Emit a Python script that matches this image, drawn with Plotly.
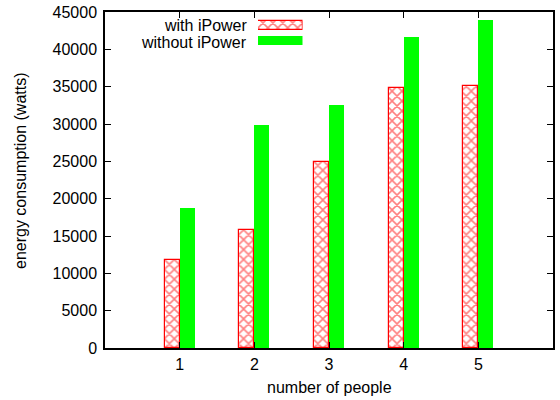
import plotly.graph_objects as go

people = [1, 2, 3, 4, 5]
with_ipower = [11800, 15800, 24900, 34800, 35100]
without_ipower = [18700, 29900, 32500, 41700, 43900]
y_ticks = list(range(0, 45001, 5000))
legend_names = ["with iPower", "without iPower"]
x_title = "number of people"
y_title = "energy consumption (watts)"

FONT = "Liberation Sans, Arial, sans-serif"
FS = 16

red_pattern = dict(shape="x", fgcolor="red", bgcolor="white", size=7, solidity=0.4)

fig = go.Figure()
fig.add_trace(go.Bar(
    x=people, y=with_ipower, name=legend_names[0], width=0.2, offset=-0.2,
    marker=dict(color="white", line=dict(color="red", width=1.2), pattern=red_pattern),
    showlegend=False))
fig.add_trace(go.Bar(
    x=people, y=without_ipower, name=legend_names[1], width=0.2, offset=0,
    marker=dict(color="#00ff00", line=dict(color="#00ff00", width=0)),
    showlegend=False))

# legend samples on an auxiliary axis
fig.add_trace(go.Bar(
    x=[1], y=[1], orientation="h", width=0.58, xaxis="x2", yaxis="y2",
    marker=dict(color="white", line=dict(color="red", width=1.2), pattern=red_pattern),
    showlegend=False, hoverinfo="skip"))
fig.add_trace(go.Bar(
    x=[1], y=[0], orientation="h", width=0.58, xaxis="x2", yaxis="y2",
    marker=dict(color="#00ff00", line=dict(width=0)),
    showlegend=False, hoverinfo="skip"))

L, R, T, B = 105, 7, 12, 52
W, H = 560, 400
pw, ph = W - L - R, H - T - B

def px_x(p):
    return (p - L) / pw

def px_y(p):
    return 1 - (p - T) / ph

fig.update_layout(
    width=W, height=H,
    margin=dict(l=L, r=R, t=T, b=B, pad=0, autoexpand=False),
    paper_bgcolor="white", plot_bgcolor="white",
    font=dict(family=FONT, size=FS, color="black"),
    bargap=0,
    xaxis=dict(range=[0, 6], tickvals=people, ticktext=[str(p) for p in people],
               ticks="inside", ticklen=6, tickwidth=1, tickcolor="black",
               ticklabelstandoff=1,
               showline=True, linecolor="black", linewidth=1.5, mirror="ticks",
               showgrid=False, zeroline=False, automargin=False),
    yaxis=dict(range=[0, 45000], tickvals=y_ticks, ticktext=[str(v) for v in y_ticks],
               ticks="inside", ticklen=6, tickwidth=1, tickcolor="black",
               ticklabelstandoff=3,
               showline=True, linecolor="black", linewidth=1.5, mirror="ticks",
               showgrid=False, zeroline=False, automargin=False),
    xaxis2=dict(domain=[px_x(258), px_x(302.5)], range=[0, 1], anchor="y2",
                visible=False, fixedrange=True),
    yaxis2=dict(domain=[px_y(48.5), px_y(18)], range=[-0.5, 1.5], anchor="x2",
                visible=False, fixedrange=True),
)

fig.add_annotation(x=px_x(249), y=px_y(25.5), xref="paper", yref="paper",
                   text=legend_names[0], showarrow=False, xanchor="right", yanchor="middle",
                   font=dict(family=FONT, size=FS))
fig.add_annotation(x=px_x(249), y=px_y(42), xref="paper", yref="paper",
                   text=legend_names[1], showarrow=False, xanchor="right", yanchor="middle",
                   font=dict(family=FONT, size=FS))
fig.add_annotation(x=px_x(329), y=px_y(387), xref="paper", yref="paper",
                   text=x_title, showarrow=False, xanchor="center", yanchor="middle",
                   font=dict(family=FONT, size=FS))
fig.add_annotation(x=px_x(20.5), y=px_y(170.5), xref="paper", yref="paper",
                   text=y_title, showarrow=False, textangle=-90,
                   xanchor="center", yanchor="middle",
                   font=dict(family=FONT, size=FS))

fig.write_html(
    "out.html",
    config={"displayModeBar": False},
    post_script="document.body.style.margin='0';document.body.style.padding='0';"
                "document.documentElement.style.overflow='hidden';",
)
